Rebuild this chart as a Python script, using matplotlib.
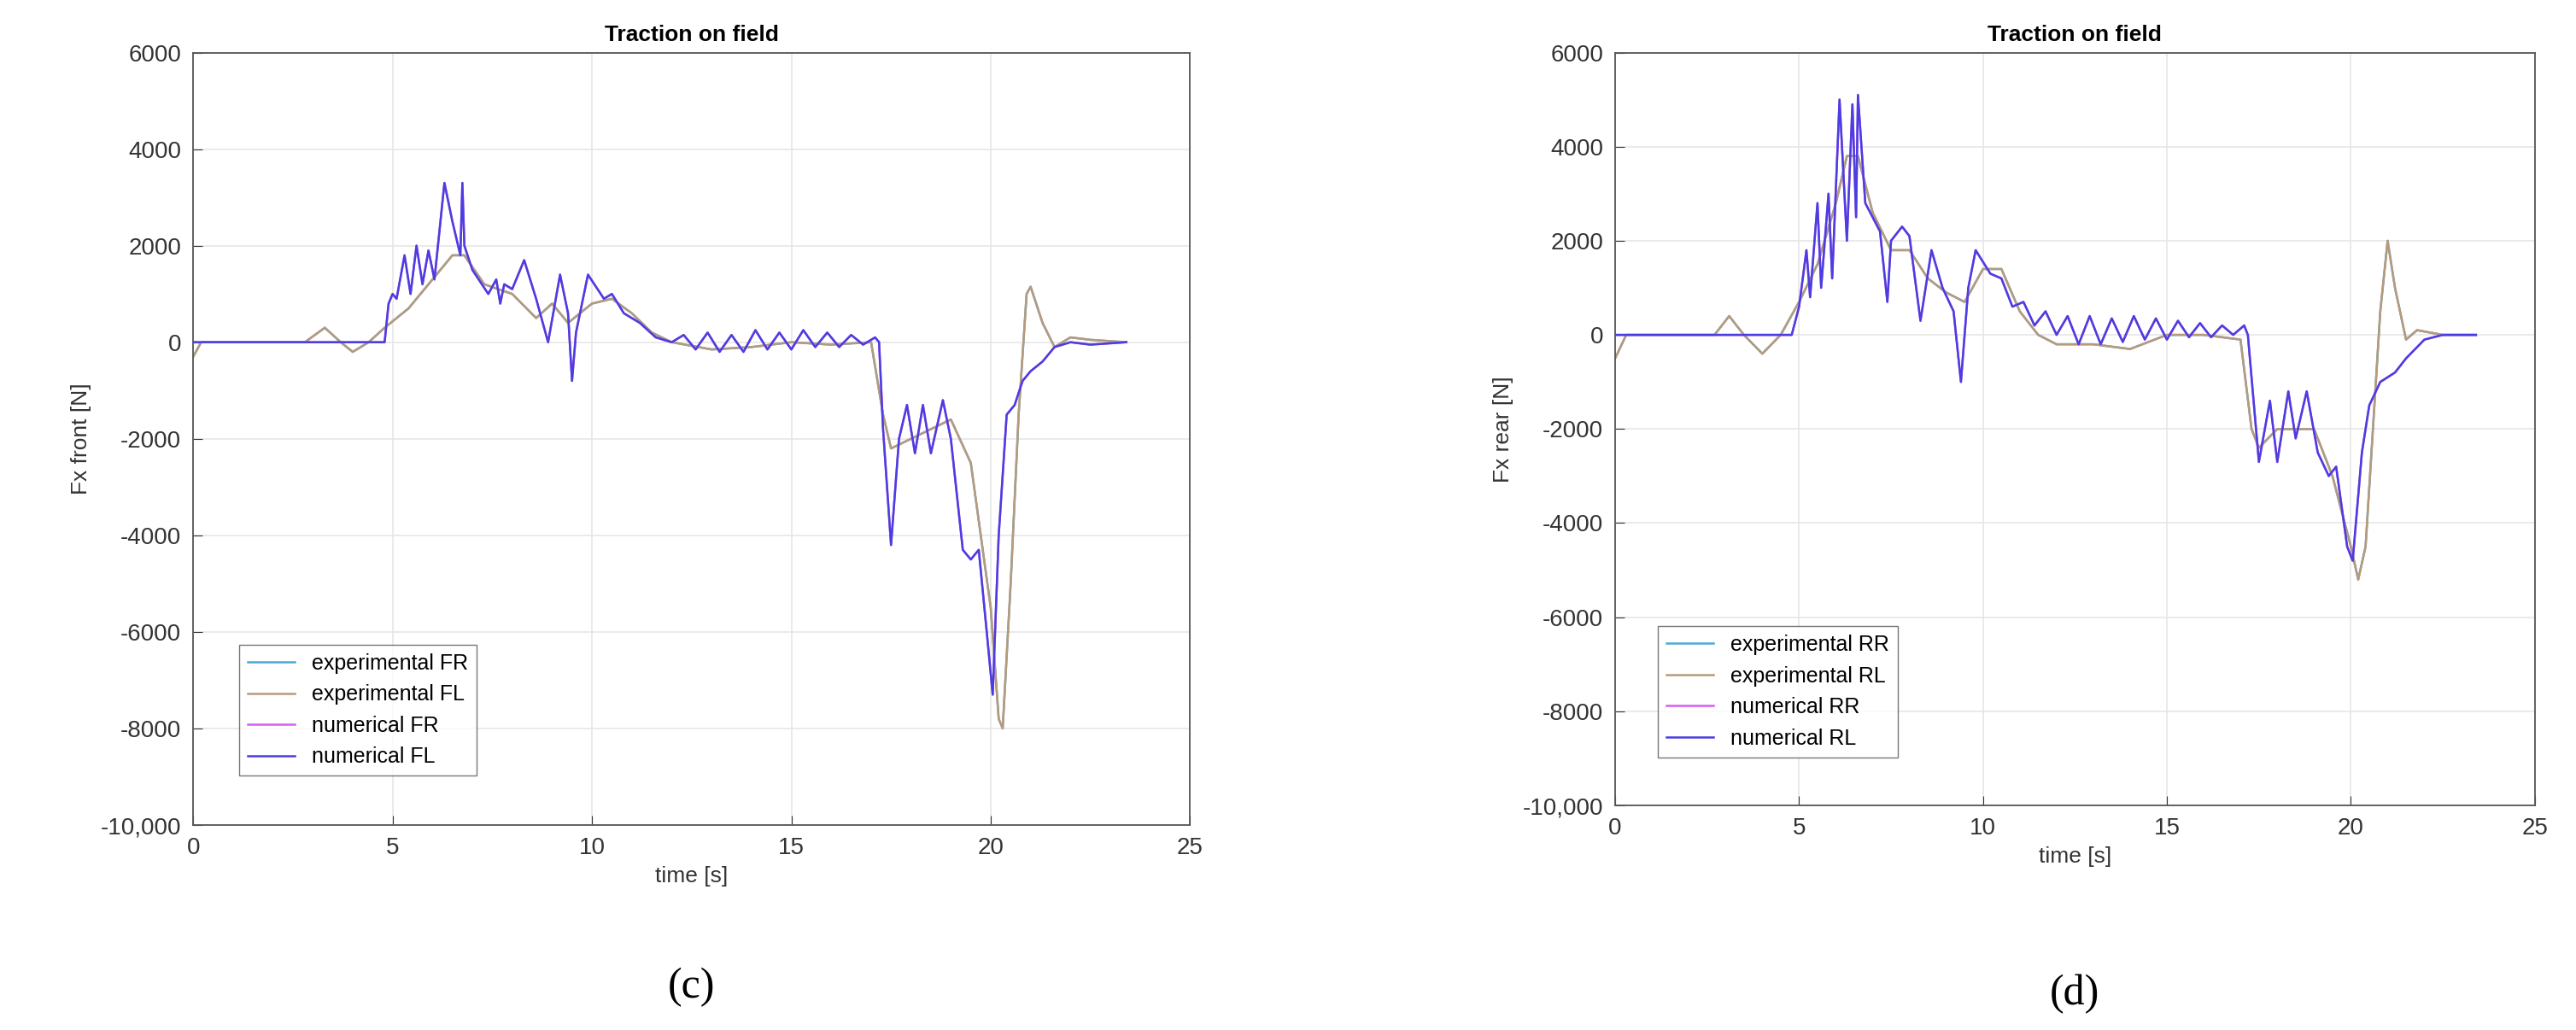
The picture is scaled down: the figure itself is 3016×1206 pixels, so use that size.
import matplotlib
matplotlib.use("Agg")
import matplotlib.pyplot as plt
import numpy as np

plt.rcParams['font.family'] = ['Liberation Sans', 'DejaVu Sans']

# ---- Data (c) front ----
tc_num = [0, 4.8, 4.9, 5.0, 5.1, 5.3, 5.45, 5.6, 5.75, 5.9, 6.05, 6.3, 6.5, 6.7, 6.75, 6.8, 7.0, 7.4, 7.6, 7.7, 7.8, 8.0,
          8.3, 8.6, 8.9, 9.2, 9.4, 9.5, 9.6, 9.9, 10.3, 10.5, 10.8, 11.2, 11.6, 12.0, 12.3, 12.6, 12.9, 13.2, 13.5, 13.8,
          14.1, 14.4, 14.7, 15.0, 15.3, 15.6, 15.9, 16.2, 16.5, 16.8, 17.1, 17.2, 17.3, 17.5, 17.7, 17.9, 18.1, 18.3,
          18.5, 18.8, 19.0, 19.3, 19.5, 19.7, 19.9, 20.05, 20.2, 20.4, 20.6, 20.8, 21.0, 21.3, 21.6, 22.0, 22.5, 23.4]
fc_num = [0, 0, 800, 1000, 900, 1800, 1000, 2000, 1200, 1900, 1300, 3300, 2500, 1800, 3300, 2000, 1500, 1000, 1300, 800, 1200, 1100,
          1700, 900, 0, 1400, 600, -800, 200, 1400, 900, 1000, 600, 400, 100, 0, 150, -150, 200, -200, 150, -200,
          250, -150, 200, -150, 250, -100, 200, -100, 150, -50, 100, 0, -1800, -4200, -2000, -1300, -2300, -1300,
          -2300, -1200, -2000, -4300, -4500, -4300, -6000, -7300, -4000, -1500, -1300, -800, -600, -400, -100, 0, -50, 0]
tc_exp = [0, 0.2, 2.8, 3.3, 3.7, 4.0, 4.4, 4.8, 5.4, 6.0, 6.5, 6.8, 7.3, 8.0, 8.6, 9.0, 9.4, 10.0, 10.5, 11.0, 11.5, 12.0,
          13.0, 14.0, 15.0, 16.0, 17.0, 17.3, 17.5, 18.0, 18.5, 19.0, 19.5, 20.0, 20.2, 20.3, 20.5, 20.7, 20.9, 21.0,
          21.3, 21.6, 22.0, 22.5, 23.4]
fc_exp = [-300, 0, 0, 300, 0, -200, 0, 300, 700, 1300, 1800, 1800, 1200, 1000, 500, 800, 400, 800, 900, 600, 200, 0,
          -150, -100, 0, -50, 0, -1500, -2200, -2000, -1800, -1600, -2500, -5500, -7800, -8000, -5000, -1500, 1000, 1150,
          400, -100, 100, 50, 0]

# ---- Data (d) rear ----
td_num = [0, 4.8, 5.0, 5.2, 5.3, 5.5, 5.6, 5.8, 5.9, 6.1, 6.3, 6.45, 6.55, 6.6, 6.8, 7.0, 7.2, 7.4, 7.5, 7.8, 8.0, 8.3,
          8.6, 8.9, 9.2, 9.4, 9.6, 9.8, 10.2, 10.5, 10.8, 11.1, 11.4, 11.7, 12.0, 12.3, 12.6, 12.9, 13.2, 13.5, 13.8,
          14.1, 14.4, 14.7, 15.0, 15.3, 15.6, 15.9, 16.2, 16.5, 16.8, 17.1, 17.2, 17.5, 17.8, 18.0, 18.3, 18.5, 18.8,
          19.1, 19.4, 19.6, 19.9, 20.05, 20.3, 20.5, 20.8, 21.2, 21.5, 22.0, 22.5, 23.4]
fd_num = [0, 0, 600, 1800, 800, 2800, 1000, 3000, 1200, 5000, 2000, 4900, 2500, 5100, 2800, 2500, 2200, 700, 2000, 2300, 2100, 300,
          1800, 1000, 500, -1000, 1000, 1800, 1300, 1200, 600, 700, 200, 500, 0, 400, -200, 400, -200, 350, -150,
          400, -100, 350, -100, 300, -50, 250, -50, 200, 0, 200, 0, -2700, -1400, -2700, -1200, -2200, -1200,
          -2500, -3000, -2800, -4500, -4800, -2500, -1500, -1000, -800, -500, -100, 0, 0]
td_exp = [0, 0.3, 2.7, 3.1, 3.5, 4.0, 4.5, 5.0, 5.5, 6.0, 6.3, 6.6, 7.0, 7.5, 8.0, 8.5, 9.0, 9.5, 10.0, 10.5, 11.0, 11.5,
          12.0, 13.0, 14.0, 15.0, 16.0, 17.0, 17.3, 17.5, 18.0, 19.0, 19.5, 20.0, 20.2, 20.4, 20.6, 20.8, 21.0, 21.2,
          21.5, 21.8, 22.5, 23.4]
fd_exp = [-500, 0, 0, 400, 0, -400, 0, 700, 1500, 2800, 3800, 3800, 2600, 1800, 1800, 1200, 900, 700, 1400, 1400, 500, 0,
          -200, -200, -300, 0, 0, -100, -2000, -2400, -2000, -2000, -3000, -4500, -5200, -4500, -2000, 500, 2000, 1000,
          -100, 100, 0, 0]

yticks = [6000, 4000, 2000, 0, -2000, -4000, -6000, -8000, -10000]
yticklabels = ['6000', '4000', '2000', '0', '-2000', '-4000', '-6000', '-8000', '-10,000']
xticks = [0, 5, 10, 15, 20, 25]

fig = plt.figure(figsize=(30.16, 12.06), dpi=100)
axc = fig.add_axes([0.075, 0.199, 0.387, 0.75])
axd = fig.add_axes([0.627, 0.218, 0.357, 0.731])

def style(ax, t_exp, f_exp, t_num, f_num, ylabel, names, letter, ly):
    ax.plot(t_exp, f_exp, color='#4fa8d8', lw=1.8, label=names[0])
    ax.plot(t_exp, f_exp, color='#b89a7a', lw=1.8, label=names[1])
    ax.plot(t_num, f_num, color='#d65ff0', lw=1.8, label=names[2])
    ax.plot(t_num, f_num, color='#4a3ee0', lw=1.8, label=names[3])
    ax.set_xlim(0, 25)
    ax.set_ylim(-10000, 6000)
    ax.set_xticks(xticks)
    ax.set_yticks(yticks)
    ax.set_yticklabels(yticklabels)
    ax.tick_params(direction='in', labelsize=20, colors='#333333', length=8, pad=10)
    ax.grid(True, color='#e6e6e6', lw=1.2)
    for s in ax.spines.values():
        s.set_color('#555555')
        s.set_linewidth(1.3)
    ax.set_title('Traction on field', fontsize=19, fontweight='bold', pad=10)
    ax.set_xlabel('time [s]', fontsize=19, color='#333333', labelpad=6)
    ax.set_ylabel(ylabel, fontsize=19, color='#333333', labelpad=8)
    ax.legend(loc='lower left', bbox_to_anchor=(0.035, 0.05), fontsize=18, frameon=True,
              fancybox=False, edgecolor='#555555', handlelength=2.2, borderpad=0.4, labelspacing=0.5)
    ax.text(0.5, ly, letter, transform=ax.transAxes, ha='center', va='center', fontsize=36,
            family=['Liberation Serif', 'DejaVu Serif'])

style(axc, tc_exp, fc_exp, tc_num, fc_num, 'Fx front [N]',
      ['experimental FR', 'experimental FL', 'numerical FR', 'numerical FL'], '(c)', -0.21)
style(axd, td_exp, fd_exp, td_num, fd_num, 'Fx rear [N]',
      ['experimental RR', 'experimental RL', 'numerical RR', 'numerical RL'], '(d)', -0.25)

fig.savefig('out.png', dpi=100)
